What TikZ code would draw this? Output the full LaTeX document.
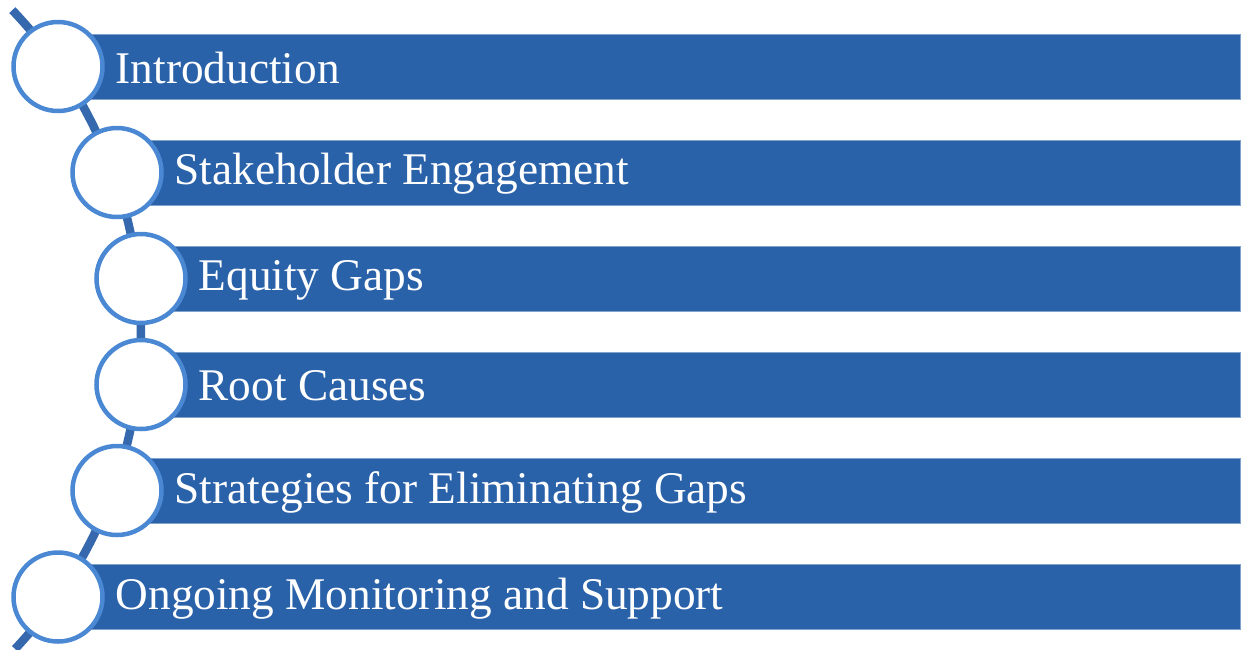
\documentclass[tikz,border=0pt]{standalone}
\usepackage{fontspec}
\setmainfont{Liberation Serif}
\definecolor{barblue}{HTML}{2A62AA}
\definecolor{ringblue}{HTML}{4A88D4}
\definecolor{arcblue}{HTML}{3568AC}
\begin{document}
\begin{tikzpicture}[x=1pt,y=-1pt,
  bar/.style={fill=barblue,draw=barblue!60!white,line width=0.6pt},
  ring/.style={circle,draw=ringblue,fill=white,line width=4.5pt,minimum size=89pt,inner sep=0pt},
  lbl/.style={anchor=west,text=white,font=\fontsize{45.3}{50}\selectfont,inner sep=0pt},
  spine/.style={draw=arcblue,line width=8.5pt}]
\useasboundingbox (0,0) rectangle (1241,649);
\coordinate (arcctr) at (-323.5,331);
\path[spine] (arcctr) ++(-43.7:464.5) arc[start angle=-43.7,end angle=43.2,radius=464.5];
\foreach \i/\cx/\cy/\t in {1/58/66.5/Introduction,
  2/117/172.5/Stakeholder Engagement,
  3/141/278.5/Equity Gaps,
  4/141/384.5/Root Causes,
  5/117/490.5/Strategies for Eliminating Gaps,
  6/58/597/Ongoing Monitoring and Support}{
  \path[bar] (\cx,\cy-32.5) rectangle (1240,\cy+32.5);
  \node[ring] (c\i) at (\cx,\cy) {};
  \node[lbl] (t\i) at (\cx+57.5,\cy+1.5) {\t};
}
\end{tikzpicture}
\end{document}
